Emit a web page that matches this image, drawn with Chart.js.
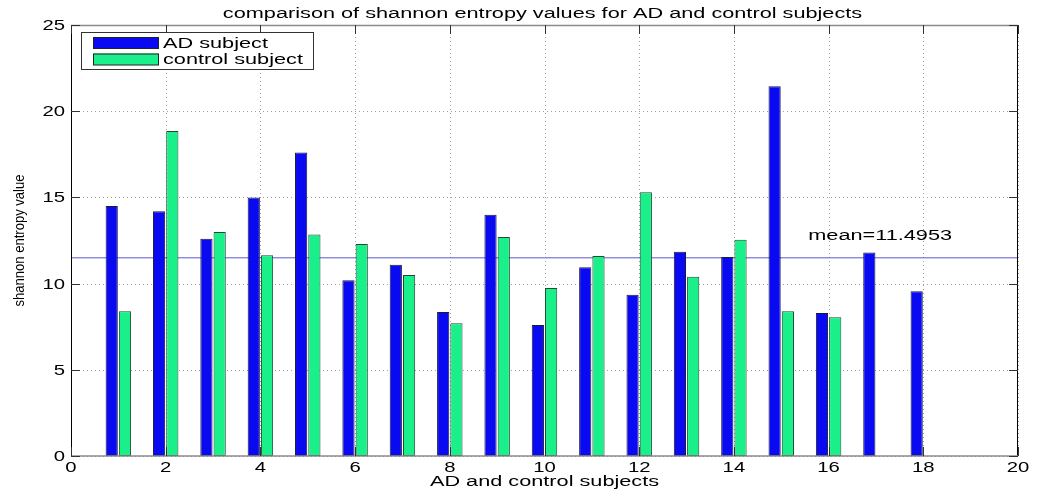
<!DOCTYPE html>
<html>
<head>
<meta charset="utf-8">
<title>Shannon entropy comparison</title>
<script src="https://cdn.jsdelivr.net/npm/chart.js@4.4.0/dist/chart.umd.min.js"></script>
<style>
    html, body { margin: 0; padding: 0; background: #fff; }
    #wrap { width: 1039px; height: 493px; }
</style>
</head>
<body>
<div id="wrap"><canvas id="entropy-chart"></canvas></div>
<script>
// Subject numbers and entropy values per group
const subjects = [1, 2, 3, 4, 5, 6, 7, 8, 9, 10, 11, 12, 13, 14, 15, 16, 17, 18];
const adValues = [14.5, 14.2, 12.6, 15.0, 17.6, 10.2, 11.1, 8.35, 14.0, 7.6, 10.95, 9.35, 11.85, 11.55, 21.45, 8.3, 11.8, 9.55];
const controlValues = [8.4, 18.85, 13.0, 11.65, 12.85, 12.3, 10.5, 7.7, 12.7, 9.75, 11.6, 15.3, 10.4, 12.55, 8.4, 8.05];
const meanValue = 11.4953;
const xTicks = [0, 2, 4, 6, 8, 10, 12, 14, 16, 18, 20];
const yTicks = [0, 5, 10, 15, 20, 25];

const FONT = '"Liberation Sans", Arial, sans-serif';

// Draw text stretched horizontally like the old figure export
function wideText(ctx, text, x, y, align, size, stretch) {
    ctx.save();
    ctx.font = size + 'px ' + FONT;
    ctx.textBaseline = 'alphabetic';
    ctx.textAlign = 'left';
    const w = ctx.measureText(text).width * stretch;
    let left = x;
    if (align === 'center') left = x - w / 2;
    else if (align === 'right') left = x - w;
    ctx.translate(left, y);
    ctx.scale(stretch, 1);
    ctx.fillStyle = '#000';
    ctx.fillText(text, 0, 0);
    ctx.restore();
}

// Axes box, dotted grid, tick labels, legend and annotations
const matlabAxes = {
    id: 'matlabAxes',
    beforeDatasetsDraw(chart) {
        const { ctx, chartArea: a, scales: { x, y } } = chart;
        ctx.save();
        ctx.strokeStyle = '#a0a0a0';
        ctx.lineWidth = 1;
        ctx.setLineDash([1, 3]);
        xTicks.forEach(v => {
            const px = Math.round(x.getPixelForValue(v)) + 0.5;
            ctx.beginPath(); ctx.moveTo(px, a.top); ctx.lineTo(px, a.bottom); ctx.stroke();
        });
        yTicks.forEach(v => {
            const py = Math.round(y.getPixelForValue(v)) + 0.5;
            ctx.beginPath(); ctx.moveTo(a.left, py); ctx.lineTo(a.right, py); ctx.stroke();
        });
        ctx.restore();
    },
    afterDatasetsDraw(chart) {
        const { ctx, chartArea: a, scales: { x, y } } = chart;
        ctx.save();

        // frame
        ctx.lineWidth = 1;
        ctx.strokeStyle = '#000';
        ctx.beginPath();
        ctx.moveTo(a.left + 0.5, a.top); ctx.lineTo(a.left + 0.5, a.bottom);
        ctx.moveTo(a.right - 0.5, a.top); ctx.lineTo(a.right - 0.5, a.bottom);
        ctx.stroke();
        ctx.strokeStyle = '#8c8c8c';
        ctx.lineWidth = 1.5;
        ctx.beginPath();
        ctx.moveTo(a.left, a.top + 0.5); ctx.lineTo(a.right, a.top + 0.5);
        ctx.moveTo(a.left, a.bottom); ctx.lineTo(a.right, a.bottom);
        ctx.stroke();

        // inward tick marks
        ctx.strokeStyle = '#333';
        ctx.lineWidth = 1;
        const tl = 9;
        ctx.beginPath();
        xTicks.forEach(v => {
            const px = Math.round(x.getPixelForValue(v)) + 0.5;
            ctx.moveTo(px, a.bottom); ctx.lineTo(px, a.bottom - tl);
            ctx.moveTo(px, a.top); ctx.lineTo(px, a.top + tl);
        });
        yTicks.forEach(v => {
            const py = Math.round(y.getPixelForValue(v)) + 0.5;
            ctx.moveTo(a.left, py); ctx.lineTo(a.left + tl, py);
            ctx.moveTo(a.right, py); ctx.lineTo(a.right - tl, py);
        });
        ctx.stroke();

        // tick labels
        xTicks.forEach(v => {
            wideText(ctx, String(v), x.getPixelForValue(v), a.bottom + 16, 'center', 14, 1.45);
        });
        yTicks.forEach(v => {
            wideText(ctx, String(v), a.left - 6, y.getPixelForValue(v) + 5, 'right', 14, 1.45);
        });

        // titles
        wideText(ctx, 'comparison of shannon entropy values for AD and control subjects',
            (a.left + a.right) / 2 - 2, 18, 'center', 14, 1.55);
        wideText(ctx, 'AD and control subjects', (a.left + a.right) / 2, a.bottom + 30, 'center', 14, 1.55);
        ctx.save();
        ctx.translate(20, (a.top + a.bottom) / 2);
        ctx.rotate(-Math.PI / 2);
        ctx.scale(0.87, 1);
        ctx.font = '15px ' + FONT;
        ctx.textAlign = 'center';
        ctx.textBaseline = 'middle';
        ctx.fillStyle = '#000';
        ctx.fillText('shannon entropy value', 0, 0);
        ctx.restore();

        // mean annotation
        wideText(ctx, 'mean=' + meanValue, x.getPixelForValue(15.57), y.getPixelForValue(meanValue + 1.05),
            'left', 14, 1.55);

        // legend
        const bars = chart.data.datasets.filter(d => d.type !== 'line');
        ctx.fillStyle = '#fff';
        ctx.strokeStyle = '#333';
        ctx.lineWidth = 1;
        ctx.fillRect(81, 32, 232, 37);
        ctx.strokeRect(81.5, 32.5, 232, 37);
        bars.forEach((d, i) => {
            const top = 37 + i * 16.5;
            ctx.fillStyle = d.backgroundColor;
            ctx.fillRect(93, top, 66, 11.5);
            ctx.strokeStyle = '#222';
            ctx.strokeRect(93.5, top + 0.5, 65, 11);
            wideText(ctx, d.label, 163, top + 10.5, 'left', 14, 1.55);
        });

        ctx.restore();
    }
};

const chart = new Chart(document.getElementById('entropy-chart'), {
    type: 'bar',
    data: {
        datasets: [
            {
                label: 'AD subject',
                data: subjects.map((s, i) => ({ x: s, y: adValues[i] })),
                backgroundColor: '#0a0af2',
                borderColor: '#1a1a40',
                borderWidth: 1,
                borderSkipped: false,
                categoryPercentage: 0.56,
                barPercentage: 0.92
            },
            {
                label: 'control subject',
                data: controlValues.map((v, i) => ({ x: subjects[i], y: v })),
                backgroundColor: '#19f08a',
                borderColor: '#1d4a30',
                borderWidth: 1,
                borderSkipped: false,
                categoryPercentage: 0.56,
                barPercentage: 0.92
            },
            {
                type: 'line',
                label: 'mean',
                data: [{ x: xTicks[0], y: meanValue }, { x: xTicks[xTicks.length - 1], y: meanValue }],
                borderColor: '#5a5ad2',
                borderWidth: 1,
                pointRadius: 0,
                fill: false
            }
        ]
    },
    options: {
        responsive: true,
        maintainAspectRatio: false,
        animation: false,
        layout: { padding: { left: 71, top: 25, right: 21, bottom: 37 } },
        plugins: {
            legend: { display: false },
            title: { display: false },
            tooltip: { enabled: false }
        },
        scales: {
            x: {
                type: 'linear',
                display: false,
                offset: false,
                min: 0,
                max: 20,
                grid: { offset: false }
            },
            y: {
                display: false,
                min: 0,
                max: 25
            }
        }
    },
    plugins: [matlabAxes]
});
</script>
</body>
</html>
